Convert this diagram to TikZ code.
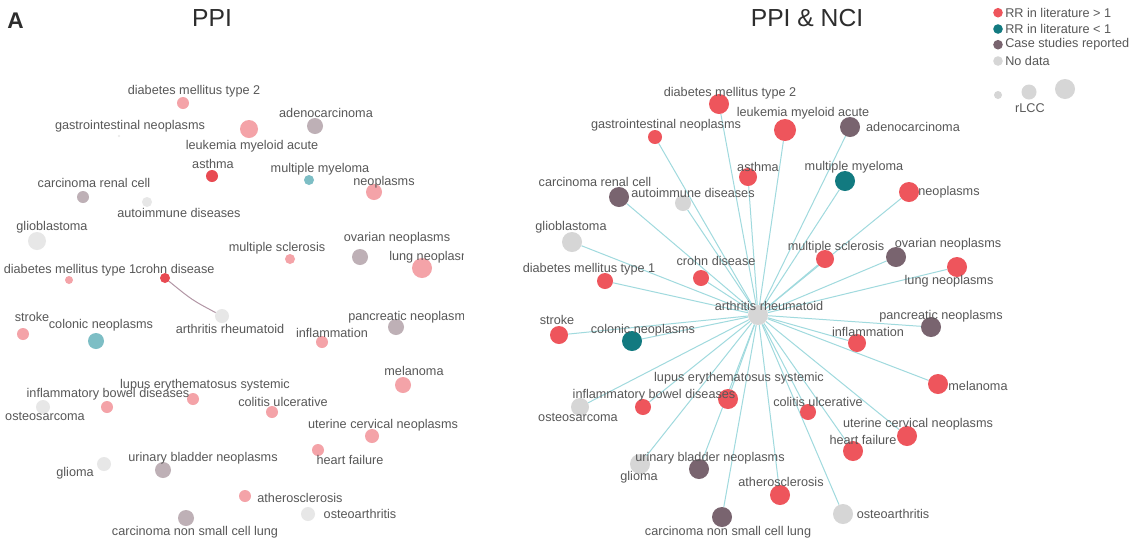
\documentclass[tikz,border=0pt]{standalone}
\usepackage{fontspec}
\setmainfont{Liberation Sans}
\pgfdeclarelayer{bg}
\pgfsetlayers{bg,main}
\definecolor{txt}{RGB}{88,88,88}
\definecolor{ttl}{RGB}{45,45,45}
\definecolor{cRed}{RGB}{238,85,92}
\definecolor{cTeal}{RGB}{18,122,128}
\definecolor{cMauve}{RGB}{121,100,111}
\definecolor{cGray}{RGB}{214,214,214}
\definecolor{pRed}{RGB}{244,163,168}
\definecolor{pRedS}{RGB}{232,74,82}
\definecolor{pTeal}{RGB}{125,190,197}
\definecolor{pMauve}{RGB}{190,176,182}
\definecolor{pGray}{RGB}{231,231,231}
\definecolor{edgeC}{RGB}{160,218,222}
\definecolor{edgeL}{RGB}{178,150,165}
\tikzset{
  dot/.style 2 args={circle, inner sep=0pt, minimum size=#2*1.5pt, fill=#1, draw=none},
  lbl/.style={text=txt, font=\fontsize{9.5}{11}\selectfont, inner sep=0pt},
  lblw/.style={lbl, anchor=west},
  title/.style={text=ttl, font=\fontsize{18.5}{22}\selectfont, inner sep=0pt},
  spoke/.style={draw=edgeC, line width=0.75pt},
  ppiedge/.style={draw=edgeL, line width=0.75pt},
}
\begin{document}
\begin{tikzpicture}[x=0.75pt, y=-0.75pt]
\useasboundingbox (0,0) rectangle (1142,544);
\begin{pgfonlayer}{bg}
\fill[white] (0,0) rectangle (1142,544);
\end{pgfonlayer}

% titles
\node[text=ttl, font=\bfseries\fontsize{17}{20}\selectfont, inner sep=0pt] (panelA) at (15.5,20.5) {A};
\node[title] (tPPI) at (212,18) {PPI};
\node[title] (tPPINCI) at (807,18.5) {PPI \& NCI};

% ===== left panel: PPI =====
\begin{scope}
\clip (0,0) rectangle (463,544);
\node[dot={pRed}{6}] (L-dm2) at (183,103) {};
\node[dot={pGray}{1.2}] (L-gi) at (119,136) {};
\node[dot={pRed}{9}] (L-lma) at (249,129) {};
\node[dot={pMauve}{8}] (L-adc) at (315,126) {};
\node[dot={pRedS}{6}] (L-ast) at (212,176) {};
\node[dot={pTeal}{5}] (L-mm) at (309,180) {};
\node[dot={pRed}{8}] (L-neo) at (374,192) {};
\node[dot={pMauve}{6}] (L-crc) at (83,197) {};
\node[dot={pGray}{5}] (L-aid) at (147,202) {};
\node[dot={pGray}{9}] (L-gbm) at (37,241) {};
\node[dot={pRed}{5}] (L-ms) at (290,259) {};
\node[dot={pMauve}{8}] (L-ova) at (360,257) {};
\node[dot={pRed}{10}] (L-lung) at (422,268) {};
\node[dot={pRed}{4}] (L-dm1) at (69,280) {};
\node[dot={pRedS}{5}] (L-cro) at (165,278) {};
\node[dot={pGray}{7}] (L-ar) at (222,316) {};
\node[dot={pRed}{6}] (L-str) at (23,334) {};
\node[dot={pTeal}{8}] (L-col) at (96,341) {};
\node[dot={pMauve}{8}] (L-pan) at (396,327) {};
\node[dot={pRed}{6}] (L-inf) at (322,342) {};
\node[dot={pRed}{8}] (L-mel) at (403,385) {};
\node[dot={pRed}{6}] (L-sle) at (193,399) {};
\node[dot={pRed}{6}] (L-ibd) at (107,407) {};
\node[dot={pGray}{7}] (L-ost) at (43,407) {};
\node[dot={pRed}{6}] (L-uc) at (272,412) {};
\node[dot={pRed}{7}] (L-ucn) at (372,436) {};
\node[dot={pRed}{6}] (L-hf) at (318,450) {};
\node[dot={pMauve}{8}] (L-ubn) at (163,470) {};
\node[dot={pGray}{7}] (L-gli) at (104,464) {};
\node[dot={pRed}{6}] (L-ath) at (245,496) {};
\node[dot={pGray}{7}] (L-oa) at (308,514) {};
\node[dot={pMauve}{8}] (L-nsc) at (186,518) {};

\begin{pgfonlayer}{bg}
\draw[ppiedge] (L-cro) .. controls (192,300) .. (L-ar);
\end{pgfonlayer}

\node[lbl] (Lt-dm2) at (194,91) {diabetes mellitus type 2};
\node[lbl] (Lt-gi) at (130,126) {gastrointestinal neoplasms};
\node[lbl] (Lt-lma) at (252,146) {leukemia myeloid acute};
\node[lbl] (Lt-adc) at (326,113) {adenocarcinoma};
\node[lbl] (Lt-ast) at (213,164) {asthma};
\node[lbl] (Lt-mm) at (320,169) {multiple myeloma};
\node[lbl] (Lt-neo) at (384,182) {neoplasms};
\node[lbl] (Lt-crc) at (94,183) {carcinoma renal cell};
\node[lbl] (Lt-aid) at (179,213) {autoimmune diseases};
\node[lbl] (Lt-gbm) at (52,227) {glioblastoma};
\node[lbl] (Lt-ms) at (277,248) {multiple sclerosis};
\node[lbl] (Lt-ova) at (397,238) {ovarian neoplasms};
\node[lblw] (Lt-lung) at (389,257) {lung neoplasms};
\node[lbl] (Lt-dm1) at (70,270) {diabetes mellitus type 1};
\node[lbl] (Lt-cro) at (175,269) {crohn disease};
\node[lbl] (Lt-ar) at (230,329) {arthritis rheumatoid};
\node[lbl] (Lt-str) at (32,317) {stroke};
\node[lbl] (Lt-col) at (101,325) {colonic neoplasms};
\node[lblw] (Lt-pan) at (348,317) {pancreatic neoplasms};
\node[lbl] (Lt-inf) at (332,333) {inflammation};
\node[lbl] (Lt-mel) at (414,371) {melanoma};
\node[lbl] (Lt-sle) at (205,385) {lupus erythematosus systemic};
\node[lbl] (Lt-ibd) at (108,394) {inflammatory bowel diseases};
\node[lbl] (Lt-ost) at (45,416) {osteosarcoma};
\node[lbl] (Lt-uc) at (283,402) {colitis ulcerative};
\node[lbl] (Lt-ucn) at (383,425) {uterine cervical neoplasms};
\node[lbl] (Lt-hf) at (350,460) {heart failure};
\node[lbl] (Lt-ubn) at (203,458) {urinary bladder neoplasms};
\node[lbl] (Lt-gli) at (75,473) {glioma};
\node[lbl] (Lt-ath) at (300,498) {atherosclerosis};
\node[lbl] (Lt-oa) at (360,514) {osteoarthritis};
\node[lbl] (Lt-nsc) at (195,532) {carcinoma non small cell lung};
\end{scope}

% ===== right panel: PPI & NCI =====
\node[dot={cRed}{10}] (R-dm2) at (719,104) {};
\node[dot={cRed}{11}] (R-lma) at (785,130) {};
\node[dot={cMauve}{10}] (R-adc) at (850,127) {};
\node[dot={cRed}{7}] (R-gi) at (655,137) {};
\node[dot={cRed}{9}] (R-ast) at (748,177) {};
\node[dot={cTeal}{10}] (R-mm) at (845,181) {};
\node[dot={cRed}{10}] (R-neo) at (909,192) {};
\node[dot={cMauve}{10}] (R-crc) at (619,197) {};
\node[dot={cGray}{8}] (R-aid) at (683,203) {};
\node[dot={cGray}{10}] (R-gbm) at (572,242) {};
\node[dot={cRed}{9}] (R-ms) at (825,259) {};
\node[dot={cMauve}{10}] (R-ova) at (896,257) {};
\node[dot={cRed}{10}] (R-lung) at (957,267) {};
\node[dot={cRed}{8}] (R-cro) at (701,278) {};
\node[dot={cRed}{8}] (R-dm1) at (605,281) {};
\node[dot={cGray}{10}] (R-ar) at (758,315) {};
\node[dot={cRed}{9}] (R-str) at (559,335) {};
\node[dot={cTeal}{10}] (R-col) at (632,341) {};
\node[dot={cMauve}{10}] (R-pan) at (931,327) {};
\node[dot={cRed}{9}] (R-inf) at (857,343) {};
\node[dot={cRed}{10}] (R-mel) at (938,384) {};
\node[dot={cRed}{10}] (R-sle) at (728,399) {};
\node[dot={cRed}{8}] (R-ibd) at (643,407) {};
\node[dot={cGray}{9}] (R-ost) at (580,407) {};
\node[dot={cRed}{8}] (R-uc) at (808,412) {};
\node[dot={cRed}{10}] (R-ucn) at (907,436) {};
\node[dot={cRed}{10}] (R-hf) at (853,451) {};
\node[dot={cMauve}{10}] (R-ubn) at (699,469) {};
\node[dot={cGray}{10}] (R-gli) at (640,464) {};
\node[dot={cRed}{10}] (R-ath) at (780,495) {};
\node[dot={cGray}{10}] (R-oa) at (843,514) {};
\node[dot={cMauve}{10}] (R-nsc) at (722,517) {};

\begin{pgfonlayer}{bg}
\foreach \n in {dm2,lma,adc,gi,ast,mm,neo,crc,aid,gbm,ms,ova,lung,cro,dm1,str,col,pan,inf,mel,sle,ibd,ost,uc,ucn,hf,ubn,gli,ath,oa,nsc}
  \draw[spoke] (R-ar) -- (R-\n);
\end{pgfonlayer}

\node[lbl] (Rt-dm2) at (730,93) {diabetes mellitus type 2};
\node[lbl] (Rt-lma) at (803,113) {leukemia myeloid acute};
\node[lbl] (Rt-adc) at (913,127) {adenocarcinoma};
\node[lbl] (Rt-gi) at (666,125) {gastrointestinal neoplasms};
\node[lbl] (Rt-ast) at (758,167) {asthma};
\node[lbl] (Rt-mm) at (854,167) {multiple myeloma};
\node[lbl] (Rt-neo) at (949,192) {neoplasms};
\node[lbl] (Rt-crc) at (595,182) {carcinoma renal cell};
\node[lbl] (Rt-aid) at (693,193) {autoimmune diseases};
\node[lbl] (Rt-gbm) at (571,227) {glioblastoma};
\node[lbl] (Rt-ms) at (836,247) {multiple sclerosis};
\node[lbl] (Rt-ova) at (948,244) {ovarian neoplasms};
\node[lbl] (Rt-lung) at (949,281) {lung neoplasms};
\node[lbl] (Rt-cro) at (716,261) {crohn disease};
\node[lbl] (Rt-dm1) at (589,269) {diabetes mellitus type 1};
\node[lbl] (Rt-ar) at (769,306) {arthritis rheumatoid};
\node[lbl] (Rt-str) at (557,320) {stroke};
\node[lbl] (Rt-col) at (643,330) {colonic neoplasms};
\node[lbl] (Rt-pan) at (941,316) {pancreatic neoplasms};
\node[lbl] (Rt-inf) at (868,332) {inflammation};
\node[lbl] (Rt-mel) at (978,386) {melanoma};
\node[lbl] (Rt-sle) at (739,378) {lupus erythematosus systemic};
\node[lbl] (Rt-ibd) at (654,395) {inflammatory bowel diseases};
\node[lbl] (Rt-ost) at (578,417) {osteosarcoma};
\node[lbl] (Rt-uc) at (818,402) {colitis ulcerative};
\node[lbl] (Rt-ucn) at (918,424) {uterine cervical neoplasms};
\node[lbl] (Rt-hf) at (863,440) {heart failure};
\node[lbl] (Rt-ubn) at (710,458) {urinary bladder neoplasms};
\node[lbl] (Rt-gli) at (639,477) {glioma};
\node[lbl] (Rt-ath) at (781,482) {atherosclerosis};
\node[lbl] (Rt-oa) at (893,514) {osteoarthritis};
\node[lbl] (Rt-nsc) at (728,532) {carcinoma non small cell lung};

% ===== legend =====
\node[dot={cRed}{4.8}] (lg1) at (998,12.7) {};
\node[lblw] (lg1t) at (1005,12.5) {RR in literature > 1};
\node[dot={cTeal}{4.8}] (lg2) at (998,29) {};
\node[lblw] (lg2t) at (1005,28.8) {RR in literature < 1};
\node[dot={cMauve}{4.8}] (lg3) at (998,44.7) {};
\node[lblw] (lg3t) at (1005,44.5) {Case studies reported};
\node[dot={cGray}{4.8}] (lg4) at (998,61) {};
\node[lblw] (lg4t) at (1005,60.8) {No data};
\node[dot={cGray}{4}] (sz1) at (998,95) {};
\node[dot={cGray}{7.5}] (sz2) at (1029,92) {};
\node[dot={cGray}{10}] (sz3) at (1065,89) {};
\node[lbl] (szt) at (1030,108) {rLCC};
\end{tikzpicture}
\end{document}
